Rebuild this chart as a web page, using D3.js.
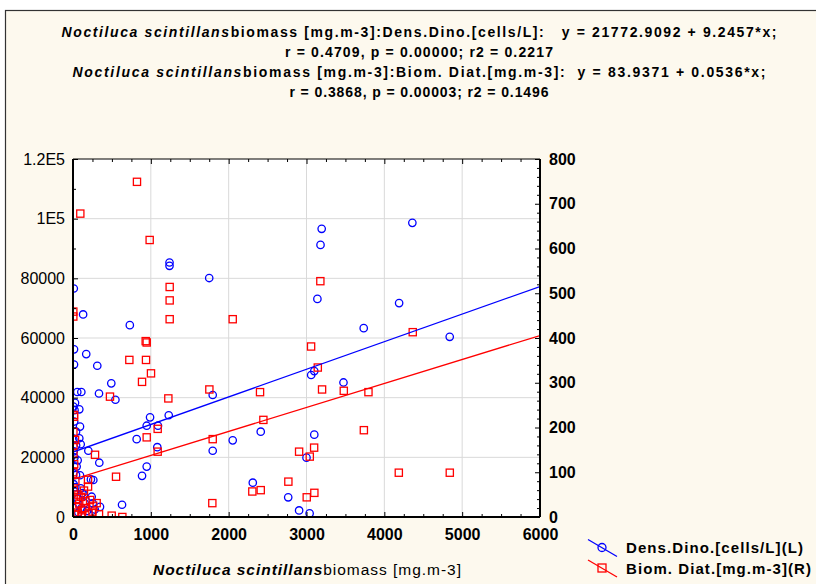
<!DOCTYPE html>
<html>
<head>
<meta charset="utf-8">
<script src="https://cdn.jsdelivr.net/npm/d3@7"></script>
<style>
  body { margin: 0; background: #fff; }
  svg { display: block; font-family: "Liberation Sans", Arial, sans-serif; }
</style>
</head>
<body>
<svg id="chart" width="816" height="584"></svg>
<script>
// tick values and labels
const xTicks = [0, 1000, 2000, 3000, 4000, 5000, 6000];
const yLeftTicks = [0, 20000, 40000, 60000, 80000, 100000, 120000];
const yLeftLabels = ["0", "20000", "40000", "60000", "80000", "1E5", "1.2E5"];
const yRightTicks = [0, 100, 200, 300, 400, 500, 600, 700, 800];

// Dens.Dino.[cells/L] (left axis)
const dinoX = [10, 130, 730, 1240, 1240, 1750, 3195, 3180, 3140, 3735, 4190, 4360, 4840,
  3060, 3100, 3475, 3100, 3000, 2765, 2905, 3040, 13, 13, 170, 312, 492, 545, 334, 55, 107,
  26, 81, 20, 90, 818, 947, 990, 1092, 1230, 1083, 947, 887, 630, 1795, 1795, 2052, 2310, 2412,
  39, 81, 99, 197, 338, 47, 39, 261, 230, 99, 240, 253, 347, 150, 20, 10, 30, 120, 60, 180,
  15, 5, 60, 110, 200, 280, 90, 5, 5, 8, 70, 140, 40, 25];
const dinoY = [76600, 67900, 64300, 85300, 84200, 80100, 96600, 91200, 73100, 63300, 71700, 98600, 60400,
  47600, 48900, 45100, 27600, 19900, 6600, 2200, 1200, 56200, 51100, 54600, 50700, 44800, 39300, 41400, 41900, 41900,
  38300, 36100, 35800, 30300, 26100, 30600, 33400, 30600, 34100, 23400, 16900, 13800, 4100, 40900, 22200, 25700, 11500, 28600,
  28600, 26400, 24400, 22200, 18200, 16900, 14100, 12400, 12600, 9600, 6800, 4600, 3400, 4600, 20000, 22000, 10000, 8000, 6000, 2000,
  32000, 26000, 19000, 3000, 1000, 2500, 14000, 37000, 3000, 11000, 1500, 7500, 24000, 8500];

// Biom. Diat.[mg.m-3] (right axis)
const diatX = [822, 94, 985, 1242, 1242, 1242, 2052, 4, 4, 934, 3178, 4365, 3059, 3145, 3200, 3479, 3796,
  3737, 3098, 2905, 3042, 4186, 4841, 2767, 3003, 3101, 724, 947, 938, 1002, 887, 475, 1225, 1752, 2403,
  2446, 1088, 1088, 947, 1795, 553, 283, 1790, 2304, 2412, 497, 634, 334, 304, 13, 26, 13, 193, 193, 141,
  5, 5, 10, 40, 80, 120, 60, 20, 150, 200, 250, 100, 30, 70, 160, 260, 5, 5, 110, 45, 220, 15];
const diatY = [749, 678, 619, 514, 484, 442, 442, 459, 448, 393, 527, 413, 381, 334, 285, 282, 279,
  194, 155, 146, 135, 99, 99, 79, 44, 54, 351, 390, 351, 321, 302, 269, 265, 285, 279,
  217, 197, 146, 178, 174, 90, 139, 31, 57, 60, 3, 0, 6, 31, 224, 172, 228, 83, 68, 59,
  142, 100, 60, 40, 30, 15, 10, 5, 20, 8, 12, 45, 80, 50, 35, 25, 190, 160, 2, 22, 38, 118];

// regression coefficients
const dinoFit = [21772.9092, 9.2457];
const diatFit = [83.9371, 0.0536];

const titleLines = [
  { it: "Noctiluca scintillans", rest: "biomass [mg.m-3]:Dens.Dino.[cells/L]:   y = 21772.9092 + 9.2457*x;", w: 715 },
  { it: "", rest: "r = 0.4709, p = 0.00000; r2 = 0.2217", w: 268 },
  { it: "Noctiluca scintillans", rest: "biomass [mg.m-3]:Biom. Diat.[mg.m-3]:  y = 83.9371 + 0.0536*x;", w: 693 },
  { it: "", rest: "r = 0.3868, p = 0.00003; r2 = 0.1496", w: 259 }
];

const svg = d3.select("#chart");
const m = { left: 73, right: 540, top: 159, bottom: 517 };

// cream panel
svg.append("rect")
  .attr("x", 5.5).attr("y", 10.5)
  .attr("width", 900).attr("height", 700)
  .attr("fill", "#fdf9ee")
  .attr("stroke", "#333").attr("stroke-width", 1.2);

// title
titleLines.forEach((l, i) => {
  const t = svg.append("text")
    .attr("x", 419 - l.w / 2).attr("y", 37 + i * 20)
    .attr("textLength", l.w).attr("lengthAdjust", "spacing")
    .attr("xml:space", "preserve")
    .style("font-size", "14px")
    .style("font-weight", "bold");
  if (l.it) t.append("tspan").style("font-style", "italic").text(l.it);
  t.append("tspan").text(l.rest);
});

const x = d3.scaleLinear().domain([0, 6000]).range([m.left, m.right]);
const yL = d3.scaleLinear().domain([0, 120000]).range([m.bottom, m.top]);
const yR = d3.scaleLinear().domain([0, 800]).range([m.bottom, m.top]);

// plot area
svg.append("rect")
  .attr("x", m.left).attr("y", m.top)
  .attr("width", m.right - m.left).attr("height", m.bottom - m.top)
  .attr("fill", "#fff");

// grid
const grid = svg.append("g").attr("stroke", "#d9d9d9").attr("stroke-width", 1);
grid.selectAll("line.v")
  .data(xTicks.slice(1, -1))
  .enter().append("line")
  .attr("x1", (d) => x(d)).attr("x2", (d) => x(d))
  .attr("y1", m.top).attr("y2", m.bottom);
grid.selectAll("line.h")
  .data(yLeftTicks.slice(1, -1))
  .enter().append("line")
  .attr("x1", m.left).attr("x2", m.right)
  .attr("y1", (d) => yL(d)).attr("y2", (d) => yL(d));

// clip for marks
svg.append("clipPath").attr("id", "clip")
  .append("rect")
  .attr("x", m.left).attr("y", m.top)
  .attr("width", m.right - m.left).attr("height", m.bottom - m.top);
const plot = svg.append("g").attr("clip-path", "url(#clip)");

// points
plot.selectAll("circle")
  .data(d3.range(dinoX.length))
  .enter().append("circle")
  .attr("cx", (i) => x(dinoX[i]))
  .attr("cy", (i) => yL(dinoY[i]))
  .attr("r", 3.7)
  .attr("fill", "none")
  .attr("stroke", "#0000ff")
  .attr("stroke-width", 1.3);

plot.selectAll("rect.sq")
  .data(d3.range(diatX.length))
  .enter().append("rect")
  .attr("class", "sq")
  .attr("x", (i) => x(diatX[i]) - 3.6)
  .attr("y", (i) => yR(diatY[i]) - 3.6)
  .attr("width", 7.2).attr("height", 7.2)
  .attr("fill", "none")
  .attr("stroke", "#ff0000")
  .attr("stroke-width", 1.3);

// fitted lines
plot.append("line")
  .attr("x1", x(0)).attr("y1", yL(dinoFit[0]))
  .attr("x2", x(6000)).attr("y2", yL(dinoFit[0] + dinoFit[1] * 6000))
  .attr("stroke", "#0000ff").attr("stroke-width", 1.3);
plot.append("line")
  .attr("x1", x(0)).attr("y1", yR(diatFit[0]))
  .attr("x2", x(6000)).attr("y2", yR(diatFit[0] + diatFit[1] * 6000))
  .attr("stroke", "#ff0000").attr("stroke-width", 1.3);

// axes
function styleAxis(g) {
  g.select(".domain").remove();
  g.selectAll(".tick line").attr("stroke", "#000").attr("stroke-width", 1);
  g.selectAll("text").attr("fill", "#000").style("font-size", "16px");
}

// left
svg.append("g")
  .attr("transform", `translate(${m.left},0)`)
  .call(d3.axisLeft(yL).tickValues(d3.range(10000, 120000, 20000)).tickSize(-3).tickFormat(""))
  .call(styleAxis);
svg.append("g")
  .attr("transform", `translate(${m.left},0)`)
  .call(d3.axisLeft(yL).tickValues(yLeftTicks).tickSize(-5)
    .tickFormat((d, i) => yLeftLabels[i]).tickPadding(8))
  .call(styleAxis)
  .style("font-family", "'Liberation Sans', Arial, sans-serif");

// right
svg.append("g")
  .attr("transform", `translate(${m.right},0)`)
  .call(d3.axisRight(yR).tickValues(d3.range(20, 800, 20).filter((d) => d % 100)).tickSize(-3).tickFormat(""))
  .call(styleAxis);
svg.append("g")
  .attr("transform", `translate(${m.right},0)`)
  .call(d3.axisRight(yR).tickValues(yRightTicks).tickSize(-5).tickPadding(9))
  .call(styleAxis)
  .selectAll("text").style("font-weight", "bold");

// bottom
svg.append("g")
  .attr("transform", `translate(0,${m.bottom})`)
  .call(d3.axisBottom(x).tickValues(d3.range(250, 6000, 250).filter((d) => d % 1000)).tickSize(-3).tickFormat(""))
  .call(styleAxis);
svg.append("g")
  .attr("transform", `translate(0,${m.bottom})`)
  .call(d3.axisBottom(x).tickValues(xTicks).tickSize(-5).tickPadding(12).tickFormat(d3.format("d")))
  .call(styleAxis)
  .selectAll("text").style("font-weight", "bold");

// top (mirror ticks)
svg.append("g")
  .attr("transform", `translate(0,${m.top})`)
  .call(d3.axisTop(x).tickValues(d3.range(250, 6000, 250).filter((d) => d % 1000)).tickSize(-3).tickFormat(""))
  .call(styleAxis);
svg.append("g")
  .attr("transform", `translate(0,${m.top})`)
  .call(d3.axisTop(x).tickValues(xTicks.slice(1, -1)).tickSize(-5).tickFormat(""))
  .call(styleAxis);

// frame
svg.append("line").attr("x1", m.left).attr("x2", m.left).attr("y1", m.top).attr("y2", m.bottom)
  .attr("stroke", "#000").attr("stroke-width", 2);
svg.append("line").attr("x1", m.right).attr("x2", m.right).attr("y1", m.top).attr("y2", m.bottom)
  .attr("stroke", "#000").attr("stroke-width", 2);
svg.append("line").attr("x1", m.left).attr("x2", m.right).attr("y1", m.bottom).attr("y2", m.bottom)
  .attr("stroke", "#000").attr("stroke-width", 2);
svg.append("line").attr("x1", m.left).attr("x2", m.right).attr("y1", m.top).attr("y2", m.top)
  .attr("stroke", "#000").attr("stroke-width", 1);

// x axis title
const xt = svg.append("text")
  .attr("x", 153).attr("y", 575)
  .attr("textLength", 308).attr("lengthAdjust", "spacing")
  .style("font-size", "15.5px");
xt.append("tspan").style("font-weight", "bold").style("font-style", "italic").text("Noctiluca scintillans");
xt.append("tspan").text("biomass [mg.m-3]");

// legend
const legend = svg.append("g");
const legendItems = [
  { label: "Dens.Dino.[cells/L](L)", color: "#0000ff", shape: "circle", w: 177 },
  { label: "Biom. Diat.[mg.m-3](R)", color: "#ff0000", shape: "square", w: 185 }
];
legendItems.forEach((item, i) => {
  const row = legend.append("g").attr("transform", `translate(602,${547.5 + i * 20.5})`);
  row.append("line")
    .attr("x1", -14).attr("y1", -8).attr("x2", 15).attr("y2", 9)
    .attr("stroke", item.color).attr("stroke-width", 1.3);
  if (item.shape === "circle") {
    row.append("circle").attr("r", 4).attr("fill", "none")
      .attr("stroke", item.color).attr("stroke-width", 1.3);
  } else {
    row.append("rect").attr("x", -4).attr("y", -4).attr("width", 8).attr("height", 8)
      .attr("fill", "none").attr("stroke", item.color).attr("stroke-width", 1.3);
  }
  row.append("text")
    .attr("x", 24).attr("y", 5.5)
    .attr("textLength", item.w).attr("lengthAdjust", "spacing")
    .style("font-size", "15px").style("font-weight", "bold")
    .text(item.label);
});
</script>
</body>
</html>
